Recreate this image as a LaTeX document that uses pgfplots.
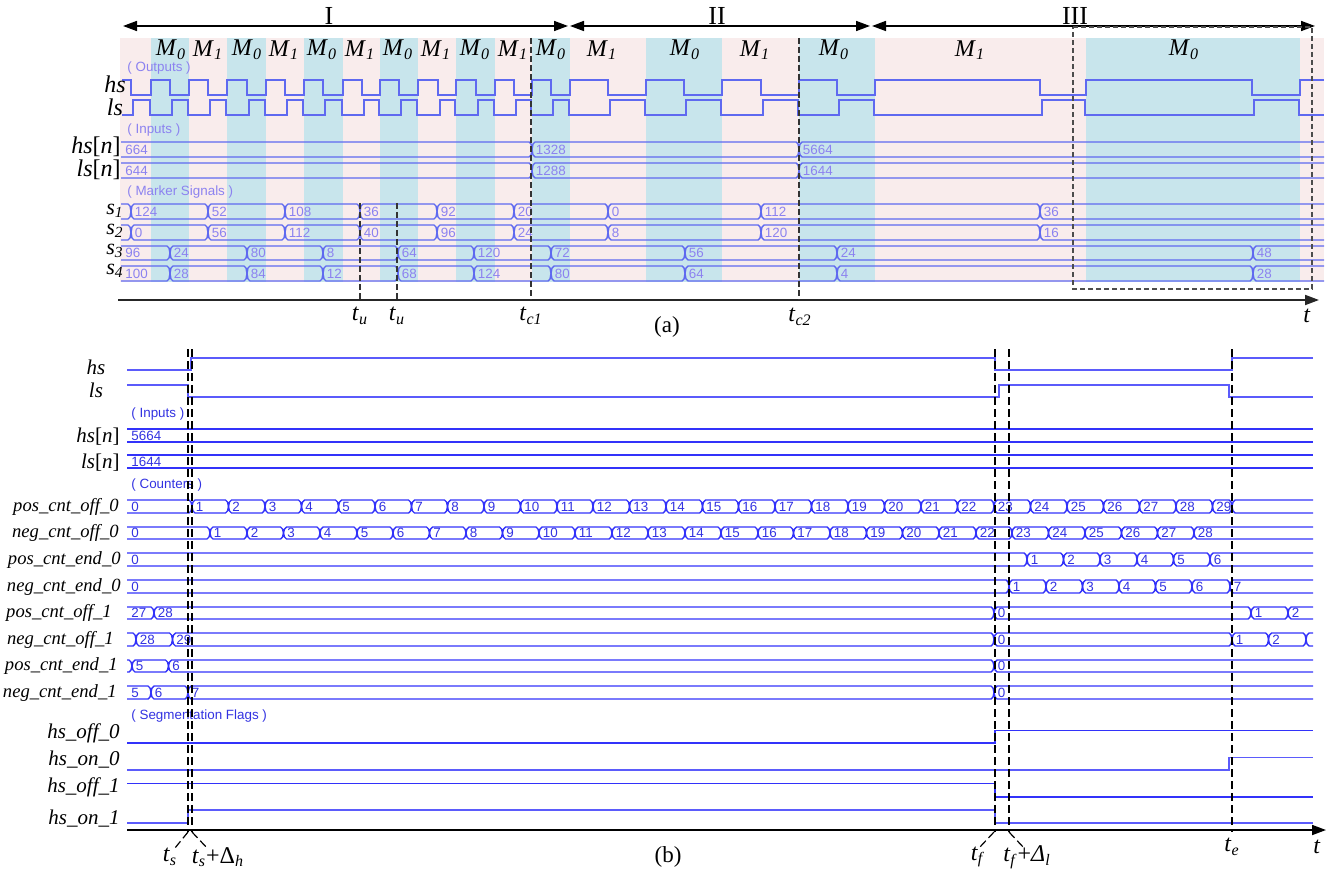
\documentclass[border=0pt]{standalone}
\usepackage{pgfplots}
\pgfplotsset{compat=1.18}
\usetikzlibrary{arrows.meta}
\usepackage{fontspec}
\setmainfont{Liberation Serif}
\newfontfamily\sigfont{Liberation Sans}

\definecolor{pinkA}{RGB}{249,236,236}
\definecolor{cyanA}{RGB}{200,229,236}
\definecolor{lineA}{RGB}{95,105,240}
\definecolor{txtA}{RGB}{140,130,240}
\definecolor{lineB}{RGB}{50,50,250}
\definecolor{txtB}{RGB}{50,50,225}

\newcommand\iv[1]{\textit{#1}}
\newcommand\sub[1]{\textsubscript{\textit{#1}}}

\tikzset{
  blineA/.style={lineA, line width=0.7pt},
  blineB/.style={lineB, line width=0.7pt},
  btxtA/.style={font=\sigfont\fontsize{6.7}{7}\selectfont, text=txtA, inner sep=0pt, anchor=west},
  btxtB/.style={font=\sigfont\fontsize{6.7}{7}\selectfont, text=txtB, inner sep=0pt, anchor=west},
  lblA/.style={font=\fontsize{12}{12}\selectfont, inner sep=0pt},
  lblS/.style={font=\fontsize{11}{11}\selectfont, inner sep=0pt},
  lblB/.style={font=\fontsize{9.3}{9.3}\selectfont, inner sep=0pt, anchor=east},
  lblC/.style={font=\fontsize{10.5}{10.5}\selectfont, inner sep=0pt, anchor=east},
  mlbl/.style={font=\fontsize{12}{12}\selectfont, inner sep=0pt},
  tlbl/.style={font=\fontsize{12}{12}\selectfont, inner sep=0pt},
  dashA/.style={line width=1pt, black!80, dash pattern=on 3pt off 1.5pt},
  dashB/.style={line width=0.8pt, black, dash pattern=on 4pt off 2pt},
}

% bus signal: [scheme]{top y}{bottom y}{x start}{x end}{first value}{transition/value,...}
\makeatletter
\newcommand\bus[7][A]{%
  \pgfmathsetmacro\bus@mid{(#2+#3)/2}%
  \pgfmathsetmacro\bus@ti{#2+2}%
  \pgfmathsetmacro\bus@bi{#3-2}%
  \xdef\bus@top{(#4,#2)}%
  \xdef\bus@bot{(#4,#3)}%
  \foreach \x/\l in {#7}{%
    \pgfmathsetmacro\bus@a{\x-3}%
    \pgfmathsetmacro\bus@b{\x-1}%
    \pgfmathsetmacro\bus@c{\x+1}%
    \pgfmathsetmacro\bus@d{\x+3}%
    \pgfmathsetmacro\bus@e{\x+3.5}%
    \xdef\bus@top{\bus@top (\bus@a,#2) (\bus@b,\bus@ti) (\x,\bus@mid) (\bus@c,\bus@ti) (\bus@d,#2)}%
    \xdef\bus@bot{\bus@bot (\bus@a,#3) (\bus@b,\bus@bi) (\x,\bus@mid) (\bus@c,\bus@bi) (\bus@d,#3)}%
    \edef\bus@node{\noexpand\node[btxt#1] at (axis cs:\bus@e,\bus@mid) {\l};}%
    \bus@node
  }%
  \xdef\bus@top{\bus@top (#5,#2)}%
  \xdef\bus@bot{\bus@bot (#5,#3)}%
  \pgfmathsetmacro\bus@e{#4+4}%
  \edef\bus@node{\noexpand\node[btxt#1] at (axis cs:\bus@e,\bus@mid) {#6};}%
  \bus@node
  \edef\bus@plot{\noexpand\addplot[bline#1] coordinates {\bus@top};%
    \noexpand\addplot[bline#1] coordinates {\bus@bot};}%
  \bus@plot
}
\makeatother

\begin{document}
\begin{tikzpicture}
\begin{axis}[
  scale only axis, width=667.5pt, height=435.5pt,
  xmin=0, xmax=1335, ymin=0, ymax=871, y dir=reverse,
  hide axis, clip=false,
]
\addplot[draw=none] coordinates {(0,0) (1335,871)};

% ---------------- (a) ----------------
% mode bands
\addplot[draw=none, fill=pinkA] coordinates {(120,38) (1324,38) (1324,282) (120,282)} -- cycle;
\addplot[draw=none, fill=cyanA] coordinates {(151,38) (189,38) (189,282) (151,282)} -- cycle;
\addplot[draw=none, fill=cyanA] coordinates {(227,38) (266,38) (266,282) (227,282)} -- cycle;
\addplot[draw=none, fill=cyanA] coordinates {(304,38) (343,38) (343,282) (304,282)} -- cycle;
\addplot[draw=none, fill=cyanA] coordinates {(380,38) (418,38) (418,282) (380,282)} -- cycle;
\addplot[draw=none, fill=cyanA] coordinates {(456,38) (495,38) (495,282) (456,282)} -- cycle;
\addplot[draw=none, fill=cyanA] coordinates {(532,38) (570,38) (570,282) (532,282)} -- cycle;
\addplot[draw=none, fill=cyanA] coordinates {(646,38) (722,38) (722,282) (646,282)} -- cycle;
\addplot[draw=none, fill=cyanA] coordinates {(799,38) (875,38) (875,282) (799,282)} -- cycle;
\addplot[draw=none, fill=cyanA] coordinates {(1086,38) (1300,38) (1300,282) (1086,282)} -- cycle;

% stage arrows
\addplot[black, line width=0.8pt, {Triangle[length=7pt,width=5pt]}-{Triangle[length=7pt,width=5pt]}] coordinates {(123,26) (568,26)};
\addplot[black, line width=0.8pt, {Triangle[length=7pt,width=5pt]}-{Triangle[length=7pt,width=5pt]}] coordinates {(570,26) (870,26)};
\addplot[black, line width=0.8pt, {Triangle[length=7pt,width=5pt]}-{Triangle[length=7pt,width=5pt]}] coordinates {(872,26) (1315,26)};
\node[font=\fontsize{13}{13}\selectfont] at (axis cs:329,16) {I};
\node[font=\fontsize{13}{13}\selectfont] at (axis cs:717,16) {II};
\node[font=\fontsize{13}{13}\selectfont] at (axis cs:1075,16) {III};

% mode labels
\node[mlbl] at (axis cs:171,50) {\iv{M}\sub{0}};
\node[mlbl] at (axis cs:208,50) {\iv{M}\sub{1}};
\node[mlbl] at (axis cs:247,50) {\iv{M}\sub{0}};
\node[mlbl] at (axis cs:284,50) {\iv{M}\sub{1}};
\node[mlbl] at (axis cs:322,50) {\iv{M}\sub{0}};
\node[mlbl] at (axis cs:360,50) {\iv{M}\sub{1}};
\node[mlbl] at (axis cs:398,50) {\iv{M}\sub{0}};
\node[mlbl] at (axis cs:436,50) {\iv{M}\sub{1}};
\node[mlbl] at (axis cs:475,50) {\iv{M}\sub{0}};
\node[mlbl] at (axis cs:513,50) {\iv{M}\sub{1}};
\node[mlbl] at (axis cs:551,50) {\iv{M}\sub{0}};
\node[mlbl] at (axis cs:602,50) {\iv{M}\sub{1}};
\node[mlbl] at (axis cs:685,50) {\iv{M}\sub{0}};
\node[mlbl] at (axis cs:755,50) {\iv{M}\sub{1}};
\node[mlbl] at (axis cs:834,50) {\iv{M}\sub{0}};
\node[mlbl] at (axis cs:970,50) {\iv{M}\sub{1}};
\node[mlbl] at (axis cs:1184,50) {\iv{M}\sub{0}};

% group headings
\node[btxtA] at (axis cs:127,68) {( Outputs )};
\node[btxtA] at (axis cs:127,130) {( Inputs )};
\node[btxtA] at (axis cs:127,192) {( Marker Signals )};

% gate signals
\addplot[lineA, line width=0.75pt] coordinates {(122,80)(131,80)(131,95)(151,95)(151,80)(170,80)(170,95)(189,95)(189,80)(208,80)(208,95)(227,95)(227,80)(247,80)(247,95)(266,95)(266,80)(285,80)(285,95)(304,95)(304,80)(323,80)(323,95)(343,95)(343,80)(362,80)(362,95)(380,95)(380,80)(399,80)(399,95)(418,95)(418,80)(438,80)(438,95)(456,95)(456,80)(476,80)(476,95)(495,95)(495,80)(514,80)(514,95)(532,95)(532,80)(551,80)(551,95)(570,95)(570,80)(608,80)(608,95)(646,95)(646,80)(684,80)(684,95)(722,95)(722,80)(761,80)(761,95)(799,95)(799,80)(837,80)(837,95)(875,95)(875,80)(1040,80)(1040,95)(1086,95)(1086,80)(1252,80)(1252,95)(1300,95)(1300,80)(1324,80)};
\addplot[lineA, line width=0.75pt] coordinates {(122,115)(133,115)(133,100)(150,100)(150,115)(172,115)(172,100)(188,100)(188,115)(210,115)(210,100)(226,100)(226,115)(249,115)(249,100)(265,100)(265,115)(287,115)(287,100)(303,100)(303,115)(325,115)(325,100)(342,100)(342,115)(364,115)(364,100)(379,100)(379,115)(401,115)(401,100)(417,100)(417,115)(440,115)(440,100)(455,100)(455,115)(478,115)(478,100)(494,100)(494,115)(516,115)(516,100)(531,100)(531,115)(553,115)(553,100)(569,100)(569,115)(610,115)(610,100)(645,100)(645,115)(686,115)(686,100)(721,100)(721,115)(763,115)(763,100)(798,100)(798,115)(839,115)(839,100)(874,100)(874,115)(1042,115)(1042,100)(1085,100)(1085,115)(1254,115)(1254,100)(1299,100)(1299,115)(1324,115)};

% inputs and marker signals
\bus[A]{142}{157}{121}{1324}{664}{532/1328, 799/5664}
\bus[A]{163}{178}{121}{1324}{644}{532/1288, 799/1644}
\bus[A]{204}{219}{121}{1324}{}{131/124, 208/52, 285/108, 360/36, 437/92, 514/20, 608/0, 761/112, 1040/36}
\bus[A]{225}{240}{121}{1324}{}{131/0, 208/56, 285/112, 360/40, 437/96, 514/24, 608/8, 761/120, 1040/16}
\bus[A]{246}{260}{121}{1324}{96}{170/24, 247/80, 323/8, 398/64, 474/120, 551/72, 685/56, 837/24, 1253/48}
\bus[A]{266}{281}{121}{1324}{100}{170/28, 247/84, 323/12, 398/68, 474/124, 551/80, 685/64, 837/4, 1253/28}

% stage III window
\addplot[black!70, line width=0.6pt, dash pattern=on 2.5pt off 1.5pt] coordinates {(1073,27) (1312,27) (1312,289) (1073,289) (1073,27)};

% time axis and markers
\addplot[black!85, line width=0.9pt, -{Triangle[length=7pt,width=5pt]}] coordinates {(118,300) (1319,300)};
\addplot[dashA] coordinates {(360,203) (360,300)};
\addplot[dashA] coordinates {(397,203) (397,300)};
\addplot[dashA] coordinates {(531,38) (531,300)};
\addplot[dashA] coordinates {(799,38) (799,300)};
\node[tlbl] at (axis cs:360,316) {\iv{t}\sub{u}};
\node[tlbl] at (axis cs:397,316) {\iv{t}\sub{u}};
\node[tlbl] at (axis cs:531,316) {\iv{t}\sub{c1}};
\node[tlbl] at (axis cs:800,317) {\iv{t}\sub{c2}};
\node[tlbl] at (axis cs:1307,316) {\iv{t}};
\node[font=\fontsize{11.5}{11.5}\selectfont] at (axis cs:667,327) {(a)};

% signal names
\node[lblA] at (axis cs:115,84) {\iv{hs}};
\node[lblA] at (axis cs:115,107) {\iv{ls}};
\node[lblA,anchor=east] at (axis cs:121,147) {\iv{hs}[\iv{n}]};
\node[lblA,anchor=east] at (axis cs:121,170) {\iv{ls}[\iv{n}]};
\node[lblS] at (axis cs:115,211) {\iv{s}\sub{1}};
\node[lblS] at (axis cs:115,231) {\iv{s}\sub{2}};
\node[lblS] at (axis cs:115,251) {\iv{s}\sub{3}};
\node[lblS] at (axis cs:115,271) {\iv{s}\sub{4}};

% ---------------- (b) ----------------
\addplot[lineB!80, line width=0.75pt] coordinates {(127,370)(191,370)(191,358)(995,358)(995,370)(1232,370)(1232,358)(1313,358)};
\addplot[lineB!80, line width=0.75pt] coordinates {(127,385)(188,385)(188,397)(999,397)(999,385)(1229,385)(1229,397)(1313,397)};

\node[btxtB] at (axis cs:131,414) {( Inputs )};
\addplot[blineB] coordinates {(127,429) (1313,429)};
\addplot[blineB] coordinates {(127,442) (1313,442)};
\addplot[blineB] coordinates {(127,455) (1313,455)};
\addplot[blineB] coordinates {(127,468) (1313,468)};
\node[btxtB] at (axis cs:131,436) {5664};
\node[btxtB] at (axis cs:131,462) {1644};

\node[btxtB] at (axis cs:131,485) {( Counters )};
\bus[B]{500}{513}{127}{1313}{0}{192/1, 228.5/2, 265/3, 301.5/4, 338.5/5, 375/6, 411.5/7, 447.5/8, 484/9, 520.5/10, 557/11, 593/12, 629.5/13, 666/14, 702.5/15, 738.5/16, 775/17, 811.5/18, 848/19, 884.5/20, 921/21, 957.5/22, 994/23, 1030.5/24, 1067/25, 1103.5/26, 1139.5/27, 1176/28, 1212.5/29, 1232/{}}
\bus[B]{527}{539}{127}{1313}{0}{210/1, 247/2, 283.5/3, 320/4, 357/5, 393/6, 429.5/7, 466/8, 502.5/9, 539/10, 575/11, 612/12, 648/13, 685/14, 721/15, 758/16, 793.5/17, 830/18, 866.5/19, 902.5/20, 939/21, 976/22, 1012/23, 1048.5/24, 1085/25, 1121.5/26, 1157.5/27, 1194/28}
\bus[B]{553}{566}{127}{1313}{0}{1027/1, 1063.5/2, 1100/3, 1137/4, 1173.5/5, 1210/6}
\bus[B]{580}{593}{127}{1313}{0}{1009/1, 1046/2, 1082.5/3, 1119/4, 1155.5/5, 1192/6, 1230/7}
\bus[B]{607}{619}{127}{1313}{27}{154/28, 994/0, 1251/1, 1288/2}
\bus[B]{633}{646}{127}{1313}{}{136/28, 172.5/29, 994/0, 1232/1, 1268.5/2, 1306/{}}
\bus[B]{660}{672}{127}{1313}{}{132/5, 168.5/6, 994/0}
\bus[B]{686}{699}{127}{1313}{5}{151/6, 188/7, 994/0}

\node[btxtB] at (axis cs:131,716) {( Segmentation Flags )};
\addplot[lineB, line width=0.75pt] coordinates {(127,743)(995,743)(995,730.5)(1313,730.5)};
\addplot[lineB!80, line width=0.75pt] coordinates {(127,770)(1229,770)(1229,757.5)(1313,757.5)};
\addplot[lineB, line width=0.75pt] coordinates {(127,783.5)(995,783.5)(995,797)(1313,797)};
\addplot[lineB!80, line width=0.75pt] coordinates {(127,823)(188,823)(188,810)(995,810)(995,823)(1313,823)};

% time axis and event markers
\addplot[black, line width=0.9pt, -{Triangle[length=7pt,width=5pt]}] coordinates {(127,830) (1326,830)};
\addplot[dashB] coordinates {(188,349) (188,832)};
\addplot[dashB] coordinates {(192,349) (192,832)};
\addplot[dashB] coordinates {(995,349) (995,832)};
\addplot[dashB] coordinates {(1009,349) (1009,832)};
\addplot[dashB] coordinates {(1232,349) (1232,832)};
\addplot[dashB, line width=0.6pt] coordinates {(188,832) (175,848)};
\addplot[dashB, line width=0.6pt] coordinates {(192,832) (208,849)};
\addplot[dashB, line width=0.6pt] coordinates {(994,832) (979,848)};
\addplot[dashB, line width=0.6pt] coordinates {(1009,832) (1024,848)};
\node[tlbl] at (axis cs:170,857) {\iv{t}\sub{s}};
\node[tlbl] at (axis cs:218,857) {\iv{t}\sub{s}+Δ\sub{h}};
\node[tlbl] at (axis cs:978,857) {\iv{t}\sub{f}};
\node[tlbl] at (axis cs:1027,857) {\iv{t}\sub{f}+\iv{Δ}\sub{l}};
\node[tlbl] at (axis cs:1232,847) {\iv{t}\sub{e}};
\node[tlbl] at (axis cs:1317,847) {\iv{t}};
\node[font=\fontsize{11.5}{11.5}\selectfont] at (axis cs:668,857) {(b)};

% signal names
\node[lblC,anchor=center] at (axis cs:96,367) {\iv{hs}};
\node[lblC,anchor=center] at (axis cs:96,390) {\iv{ls}};
\node[lblC] at (axis cs:120,437) {\iv{hs}[\iv{n}]};
\node[lblC] at (axis cs:120,463) {\iv{ls}[\iv{n}]};
\node[lblB] at (axis cs:119,507) {\iv{pos\_cnt\_off\_0}};
\node[lblB] at (axis cs:119,533) {\iv{neg\_cnt\_off\_0}};
\node[lblB] at (axis cs:121,560) {\iv{pos\_cnt\_end\_0}};
\node[lblB] at (axis cs:121,587) {\iv{neg\_cnt\_end\_0}};
\node[lblB] at (axis cs:112,613) {\iv{pos\_cnt\_off\_1}};
\node[lblB] at (axis cs:114,640) {\iv{neg\_cnt\_off\_1}};
\node[lblB] at (axis cs:118,666) {\iv{pos\_cnt\_end\_1}};
\node[lblB] at (axis cs:117,693) {\iv{neg\_cnt\_end\_1}};
\node[lblC] at (axis cs:120,733) {\iv{hs\_off\_0}};
\node[lblC] at (axis cs:120,760) {\iv{hs\_on\_0}};
\node[lblC] at (axis cs:120,787) {\iv{hs\_off\_1}};
\node[lblC] at (axis cs:120,819) {\iv{hs\_on\_1}};

\end{axis}
\pgfresetboundingbox
\useasboundingbox (current axis.south west) rectangle (current axis.north east);
\end{tikzpicture}
\end{document}
